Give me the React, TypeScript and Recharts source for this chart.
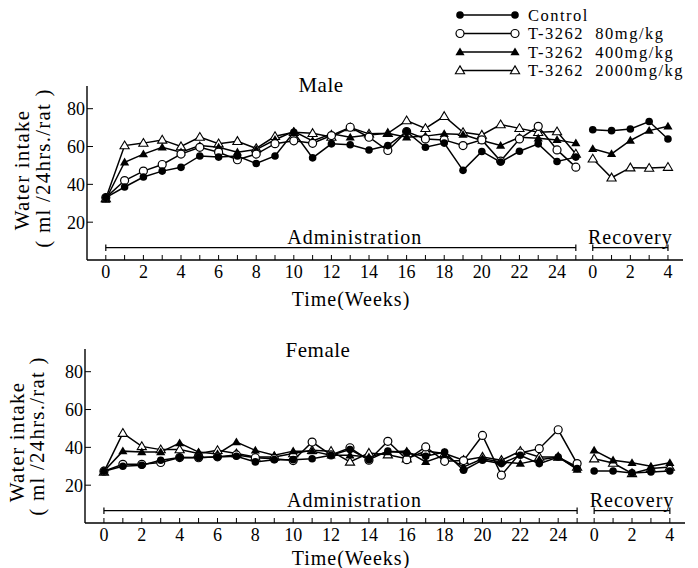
import React from "react"
import { LineChart, Line, XAxis, YAxis, Legend, ReferenceLine } from "recharts"

const FONT = '"Liberation Serif", "DejaVu Serif", serif'

// weeks of administration and recovery
const adminWeeks = [0, 1, 2, 3, 4, 5, 6, 7, 8, 9, 10, 11, 12, 13, 14, 15, 16, 17, 18, 19, 20, 21, 22, 23, 24, 25]
const recWeeks = [0, 1, 2, 3, 4]
const REC_START = 25.9 // where recovery week 0 sits on the shared axis

const adminTickLabels = ["0", "2", "4", "6", "8", "10", "12", "14", "16", "18", "20", "22", "24"]
const recTickLabels = ["0", "2", "4"]
const yTicks = [20, 40, 60, 80]

// Male, ml/24hrs./rat
const maleControl = [33, 38.6, 43.9, 47, 49, 55, 54.4, 55, 51, 55, 67.5, 54, 61.4, 60.9, 58.2, 60.5, 67.9, 59.6, 61.8, 47.4, 57.4, 51.8, 57.5, 61.4, 52.1, 54.4]
const male80 = [33, 42, 47, 50.5, 56, 59.6, 57, 53, 56, 61.5, 63, 61.7, 65.8, 70.2, 64.9, 57.9, 67.9, 64, 63.5, 60.5, 63.5, 52.3, 64, 70.7, 58.2, 49.1]
const male400 = [32, 51.7, 56, 59.6, 57, 60.5, 59.6, 57, 58.4, 63.6, 68, 63, 66.7, 64.9, 66.1, 67, 64.9, 65.5, 66.7, 66.3, 63.2, 60.5, 64.9, 64.4, 63.5, 61.8]
const male2000 = [32.5, 60.5, 61.8, 63.5, 60, 65, 61.5, 62.8, 59, 65.4, 67.5, 67, 65, 70, 66.7, 67, 73.7, 69.6, 76, 67.5, 66.1, 71.6, 69.6, 67.5, 67.9, 56.1]
const maleRecControl = [68.9, 68.4, 69.3, 73.2, 64]
const maleRec400 = [58.8, 56.1, 63.2, 68.4, 70.7]
const maleRec2000 = [53.5, 43.5, 48.8, 48.6, 49.1]

// Female, ml/24hrs./rat
const femaleControl = [27.4, 30, 30.5, 33.2, 34.6, 34.6, 34.9, 35.3, 32.3, 33.5, 33.5, 34, 35.8, 38.8, 33.5, 38, 37, 35.3, 37.5, 27.9, 33.2, 31.4, 35.8, 31.4, 34.9, 28.8]
const female80 = [27.4, 31, 31, 32, 34.6, 34.5, 35, 36, 34.5, 34, 33, 42.8, 36, 39.8, 33.2, 43.2, 33.5, 40.2, 32.6, 33, 46.3, 25.3, 37, 39.3, 49.3, 31.4]
const female400 = [27.4, 38, 37.5, 37.5, 42.3, 37.5, 36.5, 42.8, 38.4, 35.8, 38, 38, 35.8, 35.8, 34.9, 37.5, 38, 32.3, 35.8, 29.6, 34, 32.3, 31.4, 33.5, 34.9, 28.3]
const female2000 = [27, 47.5, 40.5, 38.8, 38.8, 36.7, 38.4, 36.7, 34.9, 34.9, 36.7, 38.4, 38, 32.3, 37, 36.1, 34, 38, 36.7, 33.2, 34.9, 33.2, 38, 34.9, 34.9, 29.6]
const femaleRecControl = [27.5, 27.5, 26.5, 27, 27.5]
const femaleRec400 = [38.4, 33.2, 31.8, 30, 31.8]
const femaleRec2000 = [34, 31.7, 26.2, 28.8, 29.6]

type Kind = "filledCircle" | "openCircle" | "filledTriangle" | "openTriangle"

const series: { key: string; name: string; kind: Kind }[] = [
  { key: "d2000", name: "T-3262  2000mg/kg", kind: "openTriangle" },
  { key: "d400", name: "T-3262  400mg/kg", kind: "filledTriangle" },
  { key: "d80", name: "T-3262  80mg/kg", kind: "openCircle" },
  { key: "ctrl", name: "Control", kind: "filledCircle" },
]

const legendOrder = ["ctrl", "d80", "d400", "d2000"]

function buildRows(
  ctrl: number[], d80: number[], d400: number[], d2000: number[],
  recCtrl: number[], rec400: number[], rec2000: number[],
) {
  const rows: any[] = adminWeeks.map((w, i) => ({
    x: w, ctrl: ctrl[i], d80: d80[i], d400: d400[i], d2000: d2000[i],
  }))
  // gap between administration and recovery
  rows.push({ x: (25 + REC_START) / 2, ctrl: null, d80: null, d400: null, d2000: null })
  recWeeks.forEach((r, i) => {
    rows.push({ x: REC_START + r, ctrl: recCtrl[i], d80: null, d400: rec400[i], d2000: rec2000[i] })
  })
  return rows
}

const maleRows = buildRows(maleControl, male80, male400, male2000, maleRecControl, maleRec400, maleRec2000)
const femaleRows = buildRows(femaleControl, female80, female400, female2000, femaleRecControl, femaleRec400, femaleRec2000)

const xTicks = [...adminWeeks, ...recWeeks.map((r) => REC_START + r)]

function xLabel(v: number) {
  if (v <= 25) {
    const s = String(Math.round(v))
    return adminTickLabels.includes(s) ? s : ""
  }
  const s = String(Math.round(v - REC_START))
  return recTickLabels.includes(s) ? s : ""
}

function Marker({ cx, cy, kind }: { cx: number; cy: number; kind: Kind }) {
  if (kind === "filledCircle") return <circle cx={cx} cy={cy} r={3.8} fill="#000" />
  if (kind === "openCircle") return <circle cx={cx} cy={cy} r={4} fill="#fff" stroke="#000" strokeWidth={1.2} />
  const d = `M${cx},${cy - 4.6}L${cx + 4.6},${cy + 3.2}L${cx - 4.6},${cy + 3.2}Z`
  if (kind === "filledTriangle") return <path d={d} fill="#000" />
  return <path d={d} fill="#fff" stroke="#000" strokeWidth={1.1} />
}

function makeDot(kind: Kind) {
  return (props: any) => {
    const { cx, cy, value, index } = props
    if (value == null || cy == null || isNaN(cy)) return <g key={`n-${index}`} />
    return <Marker key={`m-${index}`} cx={cx} cy={cy} kind={kind} />
  }
}

function LegendBox() {
  return (
    <svg width={243} height={80} style={{ overflow: "visible" }}>
      {legendOrder.map((key, i) => {
        const s = series.find((d) => d.key === key)!
        const y = 15 + i * 18.5
        return (
          <g key={key}>
            <line x1={5} x2={60} y1={y} y2={y} stroke="#000" strokeWidth={1.5} />
            <Marker cx={5} cy={y} kind={s.kind} />
            <Marker cx={60} cy={y} kind={s.kind} />
            <text x={73} y={y + 5.5} fontSize={16.5} letterSpacing={1.5} fontFamily={FONT} fill="#000" style={{ whiteSpace: "pre" }}>
              {s.name}
            </text>
          </g>
        )
      })}
    </svg>
  )
}

function Panel({ rows, left, right, withLegend, timeOffset }: any) {
  return (
    <LineChart width={698} height={310} data={rows} margin={{ top: 86, right, left, bottom: 0 }}>
      <XAxis
        dataKey="x"
        type="number"
        domain={[-1, 30.7]}
        ticks={xTicks}
        interval={0}
        tickFormatter={xLabel}
        tickSize={-5}
        tickMargin={10}
        height={50}
        axisLine={{ stroke: "#000", strokeWidth: 1.4 }}
        tickLine={{ stroke: "#000", strokeWidth: 1 }}
        tick={{ fontSize: 18, fill: "#000", fontFamily: FONT }}
        label={{ value: "Time(Weeks)", position: "insideBottom", offset: timeOffset, dx: -34, fontSize: 20, fill: "#000", fontFamily: FONT, letterSpacing: 1 }}
      />
      <YAxis
        type="number"
        domain={[0, 92]}
        ticks={yTicks}
        width={30}
        tickSize={-6}
        tickMargin={8}
        axisLine={{ stroke: "#000", strokeWidth: 1.4 }}
        tickLine={{ stroke: "#000", strokeWidth: 1 }}
        tick={{ fontSize: 18, fill: "#000", fontFamily: FONT }}
      />
      <ReferenceLine
        segment={[{ x: 0, y: 6.5 }, { x: 25, y: 6.5 }]}
        stroke="#000"
        strokeWidth={1.2}
        ifOverflow="visible"
        label={{ value: "Administration", position: "top", offset: 4, dx: 14, fontSize: 20, fill: "#000", fontFamily: FONT, letterSpacing: 1 }}
      />
      <ReferenceLine segment={[{ x: 0, y: 4.8 }, { x: 0, y: 8.2 }]} stroke="#000" strokeWidth={1.2} ifOverflow="visible" />
      <ReferenceLine segment={[{ x: 25, y: 4.8 }, { x: 25, y: 8.2 }]} stroke="#000" strokeWidth={1.2} ifOverflow="visible" />
      <ReferenceLine
        segment={[{ x: REC_START, y: 6.5 }, { x: REC_START + 4, y: 6.5 }]}
        stroke="#000"
        strokeWidth={1.2}
        ifOverflow="visible"
        label={{ value: "Recovery", position: "top", offset: 4, fontSize: 20, fill: "#000", fontFamily: FONT, letterSpacing: 1 }}
      />
      <ReferenceLine segment={[{ x: REC_START, y: 4.8 }, { x: REC_START, y: 8.2 }]} stroke="#000" strokeWidth={1.2} ifOverflow="visible" />
      <ReferenceLine segment={[{ x: REC_START + 4, y: 4.8 }, { x: REC_START + 4, y: 8.2 }]} stroke="#000" strokeWidth={1.2} ifOverflow="visible" />
      {series.map((s) => (
        <Line
          key={s.key}
          dataKey={s.key}
          name={s.name}
          stroke="#000"
          strokeWidth={1.5}
          dot={makeDot(s.kind)}
          activeDot={false}
          isAnimationActive={false}
          connectNulls={false}
        />
      ))}
      {withLegend && (
        <Legend
          layout="vertical"
          align="center"
          verticalAlign="middle"
          content={() => <LegendBox />}
          wrapperStyle={{ left: 455, top: 0, width: 243, height: 80 }}
        />
      )}
    </LineChart>
  )
}

function VText({ x, y, children }: any) {
  return (
    <div
      style={{
        position: "absolute",
        left: x,
        top: y,
        transform: "translate(-50%, -50%) rotate(-90deg)",
        whiteSpace: "pre",
        fontSize: 21,
        letterSpacing: 1.2,
        fontFamily: FONT,
        color: "#000",
        lineHeight: 1,
      }}
    >
      {children}
    </div>
  )
}

function Title({ x, y, children }: any) {
  return (
    <div
      style={{
        position: "absolute",
        left: x,
        top: y,
        transform: "translate(-50%, -50%)",
        fontSize: 21,
        letterSpacing: 0.5,
        fontFamily: FONT,
        color: "#000",
        lineHeight: 1,
      }}
    >
      {children}
    </div>
  )
}

export default function App() {
  return (
    <div style={{ position: "absolute", left: 0, top: 0, width: 698, height: 568, background: "#fff", overflow: "hidden" }}>
      <div style={{ position: "absolute", left: 0, top: 0 }}>
        <Panel rows={maleRows} left={57} right={15} withLegend timeOffset={4} />
      </div>
      <div style={{ position: "absolute", left: 0, top: 263 }}>
        <Panel rows={femaleRows} left={55} right={13} withLegend={false} timeOffset={8} />
      </div>
      <Title x={321} y={85}>Male</Title>
      <Title x={318} y={350}>Female</Title>
      <VText x={22} y={170}>Water intake</VText>
      <VText x={43} y={168}>( ml /24hrs./rat )</VText>
      <VText x={17} y={442}>Water intake</VText>
      <VText x={37} y={436}>( ml /24hrs./rat )</VText>
    </div>
  )
}
